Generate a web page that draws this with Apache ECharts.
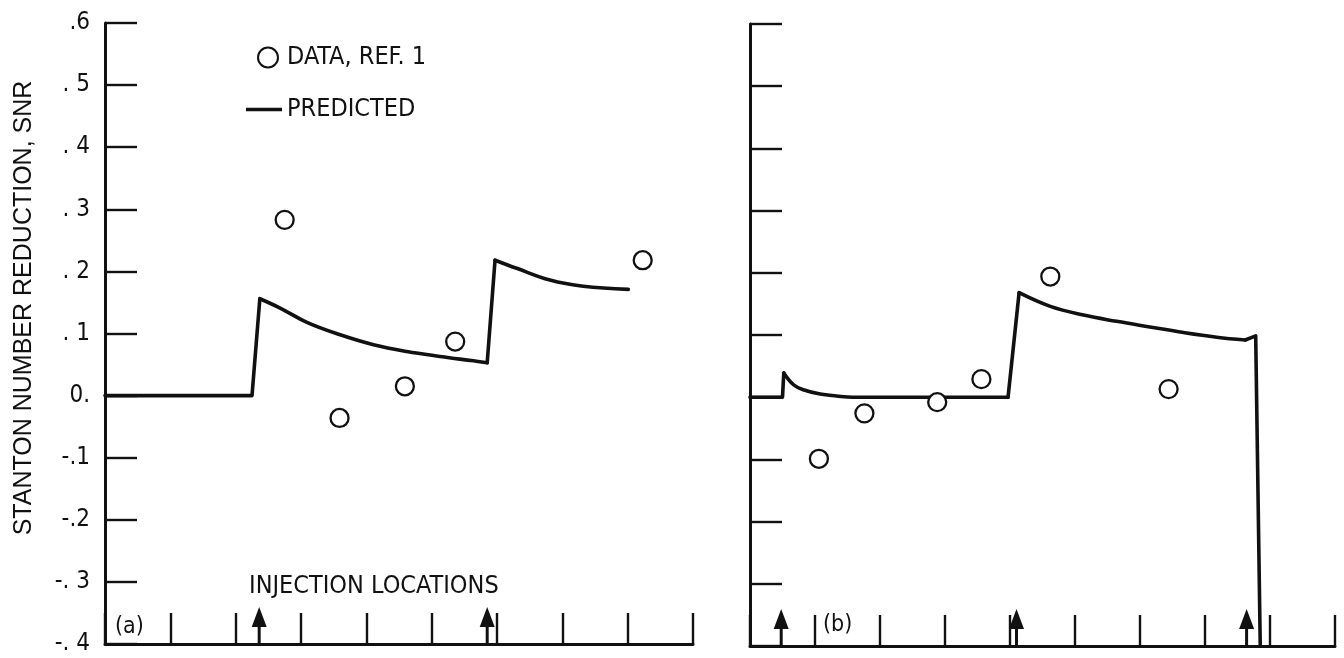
<!DOCTYPE html>
<html>
<head>
<meta charset="utf-8">
<title>Stanton number reduction</title>
<script src="https://cdn.jsdelivr.net/npm/echarts@6/dist/echarts.min.js"></script>
<style>
  html, body { margin: 0; padding: 0; background: #fff; }
  #chart { width: 1344px; height: 658px; }
</style>
</head>
<body>
<div id="chart"></div>
<script>
// Panel (a): measured points, x in station spacings
const dataA = [[2.75, 0.283], [3.59, -0.036], [4.59, 0.015], [5.36, 0.087], [8.23, 0.218]];
// Panel (a) predicted curve, split into straight jumps and smooth decays
const predictedA1 = [[0, 0], [2.25, 0], [2.37, 0.156]];
const predictedA2 = [[2.37, 0.156], [2.68, 0.141], [3.09, 0.118], [3.60, 0.098], [4.11, 0.082],
                     [4.62, 0.071], [5.13, 0.063], [5.64, 0.056], [5.85, 0.053]];
const predictedA3 = [[5.85, 0.053], [5.97, 0.218]];
const predictedA4 = [[5.97, 0.218], [6.30, 0.205], [6.81, 0.186], [7.32, 0.176], [8.01, 0.171]];
const injectionA = [2.36, 5.85];

// Panel (b)
const dataB = [[1.06, -0.099], [1.76, -0.026], [2.88, -0.008], [3.56, 0.029], [4.62, 0.194], [6.44, 0.013]];
const predictedB1 = [[0, 0], [0.50, 0], [0.52, 0.039]];
const predictedB2 = [[0.52, 0.039], [0.67, 0.020], [0.82, 0.012], [1.08, 0.005], [1.33, 0.002],
                     [1.58, 0], [3.97, 0]];
const predictedB3 = [[3.97, 0], [4.14, 0.168]];
const predictedB4 = [[4.14, 0.168], [4.62, 0.146], [5.13, 0.132], [5.64, 0.122], [6.15, 0.113],
                     [6.67, 0.104], [7.18, 0.0965], [7.62, 0.092]];
const predictedB5 = [[7.62, 0.092], [7.78, 0.0986], [7.85, -0.4]];
const injectionB = [0.48, 4.10, 7.64];

// Axis ranges and tick labels
const yMin = -0.4, yMax = 0.6, yStep = 0.1;
const xMin = 0, xMax = 9, xStep = 1;
const yTickLabels = ['-. 4', '-. 3', '-.2', '-.1', '0.', '. 1', '. 2', '. 3', '. 4', '. 5', '.6'];

const INK = '#111';
const NARROW = '"Liberation Sans Narrow", "DejaVu Sans Condensed", "Arial Narrow", sans-serif';
const REGULAR = '"Liberation Sans", Arial, sans-serif';

function xAxisFor(gridIndex) {
  return {
    gridIndex, type: 'value', min: xMin, max: xMax, interval: xStep,
    axisLine: { show: true, onZero: false, lineStyle: { color: INK, width: 3 } },
    axisTick: { show: true, inside: true, length: 31, lineStyle: { color: INK, width: 2.4 } },
    axisLabel: { show: false },
    splitLine: { show: false }
  };
}

function yAxisFor(gridIndex, withLabels) {
  return {
    gridIndex, type: 'value', min: yMin, max: yMax, interval: yStep,
    axisLine: { show: true, onZero: false, lineStyle: { color: INK, width: 3 } },
    axisTick: { show: true, inside: true, length: 32, lineStyle: { color: INK, width: 2.4 } },
    axisLabel: {
      show: withLabels, margin: 15, color: INK, fontSize: 24, fontFamily: NARROW,
      formatter: v => yTickLabels[Math.round((v - yMin) / yStep)]
    },
    splitLine: { show: false }
  };
}

// Upward arrows standing on the baseline at each injection station
function arrowItem(params, api) {
  const p = api.coord([api.value(0), api.value(1)]);
  return {
    type: 'group',
    children: [
      { type: 'line', shape: { x1: p[0], y1: p[1], x2: p[0], y2: p[1] - 20 },
        style: { stroke: INK, lineWidth: 3 } },
      { type: 'polygon',
        shape: { points: [[p[0] - 7.5, p[1] - 17], [p[0] + 7.5, p[1] - 17], [p[0], p[1] - 37]] },
        style: { fill: INK } }
    ]
  };
}

function curvePiece(idx, data, smooth) {
  return {
    name: 'PREDICTED', type: 'line', xAxisIndex: idx, yAxisIndex: idx,
    data, showSymbol: false, symbol: 'none',
    smooth: smooth ? 0.4 : false,
    lineStyle: { color: INK, width: 3.6, join: 'round', cap: 'round' },
    itemStyle: { color: INK }, z: 3
  };
}

function panelSeries(idx, points, pieces, stations) {
  return [
    ...pieces.map(([data, smooth]) => curvePiece(idx, data, smooth)),
    {
      name: 'DATA, REF. 1', type: 'scatter', xAxisIndex: idx, yAxisIndex: idx,
      data: points, symbol: 'circle', symbolSize: 18,
      itemStyle: { color: '#fff', borderColor: INK, borderWidth: 2.3, opacity: 1 }, z: 4
    },
    {
      type: 'custom', xAxisIndex: idx, yAxisIndex: idx,
      data: stations.map(x => [x, yMin]), renderItem: arrowItem, clip: false, z: 5, silent: true
    }
  ];
}

const chart = echarts.init(document.getElementById('chart'), null, { renderer: 'canvas' });
chart.setOption({
  animation: false,
  backgroundColor: '#fff',
  grid: [
    { left: 105, top: 23, width: 588, height: 621 },
    { left: 750, top: 24, width: 585, height: 622 }
  ],
  xAxis: [xAxisFor(0), xAxisFor(1)],
  yAxis: [yAxisFor(0, true), yAxisFor(1, false)],
  legend: [
    {
      data: [{ name: 'DATA, REF. 1' }], left: 257, top: 45, padding: 0,
      itemWidth: 20, itemHeight: 20, selectedMode: false,
      textStyle: { color: INK, fontSize: 25, fontFamily: NARROW, padding: [0, 0, 0, 4] }
    },
    {
      data: [{ name: 'PREDICTED', icon: 'rect' }], left: 246, top: 97, padding: 0,
      itemWidth: 36, itemHeight: 3.6, selectedMode: false,
      textStyle: { color: INK, fontSize: 25, fontFamily: NARROW, padding: [0, 0, 0, 0] }
    }
  ],
  graphic: [
    { type: 'text', x: 24, y: 308, rotation: Math.PI / 2,
      style: { text: 'STANTON NUMBER REDUCTION, SNR', fill: INK, fontSize: 25,
               fontFamily: REGULAR, align: 'center', verticalAlign: 'middle' } },
    { type: 'text', left: 249, top: 574,
      style: { text: 'INJECTION LOCATIONS', fill: INK, fontSize: 25, fontFamily: NARROW } },
    { type: 'text', left: 115, top: 616,
      style: { text: '(a)', fill: INK, fontSize: 23, fontFamily: NARROW } },
    { type: 'text', left: 823, top: 614,
      style: { text: '(b)', fill: INK, fontSize: 23, fontFamily: NARROW } }
  ],
  series: [
    ...panelSeries(0, dataA,
      [[predictedA1, false], [predictedA2, true], [predictedA3, false], [predictedA4, true]],
      injectionA),
    ...panelSeries(1, dataB,
      [[predictedB1, false], [predictedB2, true], [predictedB3, false], [predictedB4, true], [predictedB5, false]],
      injectionB)
  ]
});
</script>
</body>
</html>
